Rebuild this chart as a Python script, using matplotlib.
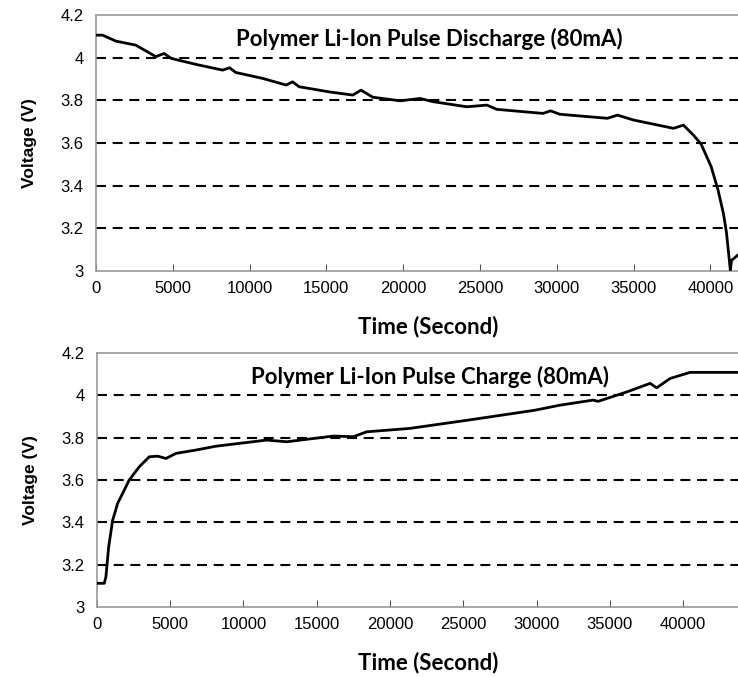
import matplotlib.pyplot as plt

# Pulse discharge trace (time in s, voltage in V)
dis_t = [0, 430, 1300, 2600, 3900, 4430, 4900, 6500, 8250, 8700, 9100,
         10860, 12380, 12800, 13230, 15180, 16720, 17260, 18020, 19800,
         21100, 21950, 24150, 25450, 26100, 29100, 29600, 30200, 33300,
         33950, 35000, 37600, 38250, 38900, 39400, 40050, 40500, 40850,
         41050, 41300, 41380, 41800]
dis_v = [4.106, 4.106, 4.078, 4.059, 4.005, 4.02, 3.997, 3.969, 3.942, 3.953, 3.931,
         3.903, 3.872, 3.887, 3.864, 3.84, 3.825, 3.848, 3.815, 3.798,
         3.809, 3.794, 3.77, 3.778, 3.758, 3.739, 3.751, 3.735, 3.716,
         3.731, 3.708, 3.669, 3.684, 3.637, 3.595, 3.49, 3.38, 3.27,
         3.18, 3.005, 3.05, 3.075]

# Pulse charge trace
chg_t = [0, 500, 610, 800, 1070, 1410, 1750, 2200, 2890, 3570, 4140, 4710,
         5390, 6760, 8120, 11580, 12950, 16130, 17500, 18400, 21330, 25300,
         29880, 31600, 33860, 34200, 36180, 37750, 38200, 39110, 40480, 43750]
chg_v = [3.112, 3.112, 3.143, 3.285, 3.41, 3.49, 3.537, 3.6, 3.663, 3.71, 3.713, 3.702,
         3.726, 3.742, 3.76, 3.789, 3.781, 3.808, 3.805, 3.828, 3.844, 3.883,
         3.93, 3.954, 3.978, 3.972, 4.017, 4.057, 4.036, 4.08, 4.109, 4.109]

grid_levels = [3.2, 3.4, 3.6, 3.8, 4.0]
y_ticks = [3.0, 3.2, 3.4, 3.6, 3.8, 4.0, 4.2]
y_labels = ['3', '3.2', '3.4', '3.6', '3.8', '4', '4.2']
x_ticks = [0, 5000, 10000, 15000, 20000, 25000, 30000, 35000, 40000]

tick_font = 'Liberation Sans'
title_font = 'Lato'

fig = plt.figure(figsize=(7.38, 6.77), dpi=100)
ax1 = fig.add_axes([0.130, 0.5997, 0.870, 0.378])
ax2 = fig.add_axes([0.1314, 0.1034, 0.8686, 0.375])

panels = [
    (ax1, dis_t, dis_v, 41800, 'Polymer Li-Ion Pulse Discharge (80mA)'),
    (ax2, chg_t, chg_v, 43750, 'Polymer Li-Ion Pulse Charge (80mA)'),
]

for ax, t, v, tmax, title in panels:
    for lvl in grid_levels:
        ax.axhline(lvl, color='black', lw=1.5, dashes=(4.8, 3.2), zorder=1)
    ax.plot(t, v, color='black', lw=2.0, zorder=3)
    ax.set_xlim(0, tmax)
    ax.set_ylim(3.0, 4.2)
    ax.set_yticks(y_ticks)
    ax.set_yticklabels(y_labels, fontfamily=tick_font, fontsize=12)
    ax.set_xticks(x_ticks)
    ax.set_xticklabels([str(x) for x in x_ticks], fontfamily=tick_font, fontsize=12)
    ax.tick_params(axis='x', direction='in', length=5, color='#555555', pad=7)
    ax.tick_params(axis='y', length=0, pad=9)
    for side in ['left', 'bottom', 'top']:
        ax.spines[side].set_color('#999999')
        ax.spines[side].set_linewidth(1.2)
    ax.spines['right'].set_visible(False)
    ax.set_ylabel('Voltage (V)', fontfamily=tick_font, fontweight='bold',
                  fontsize=12.5, labelpad=17)
    ax.set_xlabel('Time (Second)', fontfamily=title_font, fontweight='bold',
                  fontsize=16, labelpad=14)
    ax.xaxis.label.set_x(0.517)
    ax.text(0.52, 0.905, title, transform=ax.transAxes, ha='center', va='center',
            fontfamily=title_font, fontweight='bold', fontsize=16, zorder=4)

fig.savefig('out.png', dpi=100)
